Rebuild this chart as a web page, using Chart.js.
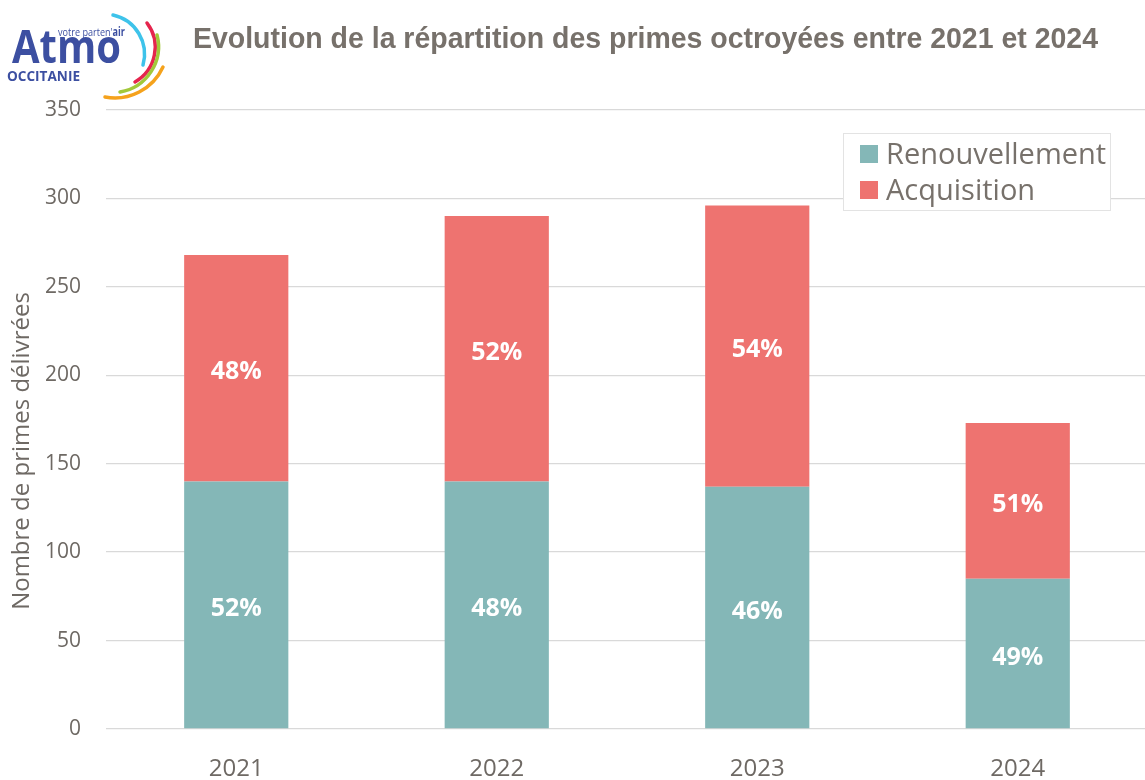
<!DOCTYPE html>
<html lang="fr">
<head>
<meta charset="utf-8">
<script src="https://cdn.jsdelivr.net/npm/chart.js@4.4.1/dist/chart.umd.min.js"></script>
<style>
  html, body { margin: 0; padding: 0; background: #fff; overflow: hidden; }
  #wrap { position: relative; width: 1145px; height: 780px; overflow: hidden; }
  #c { position: absolute; left: 0; top: 0; }
  #logo { position: absolute; left: 0; top: 0; width: 175px; height: 105px; }
</style>
</head>
<body>
<div id="wrap">
  <canvas id="c" width="1148" height="800"></canvas>
  <svg id="logo" width="175" height="105" viewBox="0 0 175 105" xmlns="http://www.w3.org/2000/svg">
    <text x="58" y="36" font-family="'Open Sans', sans-serif" font-size="11.5" fill="#3c4fa1" textLength="67" lengthAdjust="spacingAndGlyphs">votre parten'<tspan font-weight="bold">air</tspan></text>
    <text x="12" y="63" font-family="'Open Sans', sans-serif" font-weight="bold" font-size="46" fill="#3c4fa1" textLength="109" lengthAdjust="spacingAndGlyphs">Atmo</text>
    <text x="7" y="81" font-family="'Open Sans', sans-serif" font-weight="bold" font-size="15" fill="#3c4fa1" textLength="73" lengthAdjust="spacingAndGlyphs">OCCITANIE</text>
    <path d="M 113 15 A 40 40 0 0 1 143 65" fill="none" stroke="#3ec3ea" stroke-width="3.5" stroke-linecap="round"/>
    <path d="M 147 23 A 40 40 0 0 1 135 82" fill="none" stroke="#e5254d" stroke-width="3.5" stroke-linecap="round"/>
    <path d="M 157 35 A 46 46 0 0 1 120 92" fill="none" stroke="#a2c83a" stroke-width="3.5" stroke-linecap="round"/>
    <path d="M 163 67 A 53 53 0 0 1 105 97" fill="none" stroke="#f5a21c" stroke-width="3.5" stroke-linecap="round"/>
  </svg>
</div>
<script>
// ---- Data ----
const categories = ["2021", "2022", "2023", "2024"];
const renouvellement = [140, 140, 137, 85];
const acquisition = [128, 150, 159, 88];
const yTicks = [0, 50, 100, 150, 200, 250, 300, 350];
const seriesNames = ["Renouvellement", "Acquisition"];
const titleText = "Evolution de la répartition des primes octroyées entre 2021 et 2024";
const yAxisTitle = "Nombre de primes délivrées";

const TEAL = "#84b7b7";
const RED = "#ee7370";
const GREY = "#6e6964";
const FONT = "'Open Sans', 'Noto Sans', sans-serif";

const totals = categories.map((_, i) => renouvellement[i] + acquisition[i]);

const titlePlugin = {
  id: "customTitle",
  afterDraw(chart) {
    const ctx = chart.ctx;
    ctx.save();
    ctx.font = "bold 30px 'Liberation Sans Narrow', 'Liberation Sans', Arial, sans-serif";
    ctx.fillStyle = "#77716b";
    ctx.textBaseline = "alphabetic";
    ctx.textAlign = "left";
    const w = ctx.measureText(titleText).width;
    const target = 905;
    ctx.translate(193, 48);
    ctx.scale(target / w, 1);
    ctx.fillText(titleText, 0, 0);
    ctx.restore();

    // y axis title
    ctx.save();
    ctx.font = "24px " + FONT;
    ctx.fillStyle = GREY;
    ctx.textAlign = "center";
    ctx.textBaseline = "middle";
    ctx.translate(22, 451);
    ctx.rotate(-Math.PI / 2);
    ctx.fillText(yAxisTitle, 0, 0);
    ctx.restore();
  }
};

const labelPlugin = {
  id: "segLabels",
  afterDatasetsDraw(chart) {
    const ctx = chart.ctx;
    ctx.save();
    ctx.font = "bold 25px " + FONT;
    ctx.fillStyle = "#ffffff";
    ctx.textAlign = "center";
    ctx.textBaseline = "middle";
    chart.data.datasets.forEach((ds, di) => {
      const meta = chart.getDatasetMeta(di);
      meta.data.forEach((bar, i) => {
        const pct = Math.round(ds.data[i] / totals[i] * 100) + "%";
        const y = (bar.y + bar.base) / 2;
        ctx.fillText(pct, bar.x, y + 4);
      });
    });
    ctx.restore();
  }
};

const legendPlugin = {
  id: "boxLegend",
  afterDraw(chart) {
    const ctx = chart.ctx;
    const bx = 843, by = 133, bw = 268, bh = 78;
    ctx.save();
    ctx.fillStyle = "#ffffff";
    ctx.fillRect(bx, by, bw, bh);
    ctx.strokeStyle = "#e3e3e3";
    ctx.lineWidth = 1;
    ctx.strokeRect(bx + 0.5, by + 0.5, bw - 1, bh - 1);
    ctx.font = "29px " + FONT;
    ctx.textBaseline = "alphabetic";
    ctx.textAlign = "left";
    chart.data.datasets.forEach((ds, i) => {
      const rowY = 164 + i * 36;
      ctx.fillStyle = ds.backgroundColor;
      ctx.fillRect(860, rowY - 19, 18, 18);
      ctx.fillStyle = "#77716b";
      ctx.fillText(ds.label, 886, rowY);
    });
    ctx.restore();
  }
};

new Chart(document.getElementById("c"), {
  type: "bar",
  data: {
    labels: categories,
    datasets: [
      { label: seriesNames[0], data: renouvellement, backgroundColor: TEAL, borderWidth: 0 },
      { label: seriesNames[1], data: acquisition, backgroundColor: RED, borderWidth: 0 }
    ]
  },
  options: {
    responsive: false,
    animation: false,
    devicePixelRatio: 1,
    layout: { padding: { top: 110, right: 0, bottom: 0, left: 0 } },
    datasets: { bar: { categoryPercentage: 1.0, barPercentage: 0.4 } },
    plugins: {
      legend: { display: false },
      title: { display: false },
      tooltip: { enabled: false }
    },
    scales: {
      x: {
        stacked: true,
        grid: { display: false, drawTicks: false },
        border: { display: false },
        ticks: { color: GREY, font: { family: FONT, size: 24 }, padding: 26 },
        afterFit(scale) { scale.height = 800 - 729; }
      },
      y: {
        stacked: true,
        min: 0,
        max: 350,
        afterBuildTicks(scale) { scale.ticks = yTicks.map(v => ({ value: v })); },
        grid: { color: "#d9d9d9", lineWidth: 1.3, drawTicks: false },
        border: { display: false },
        ticks: { color: GREY, font: { family: FONT, size: 21 }, padding: 25 },
        afterFit(scale) { scale.width = 106; }
      }
    }
  },
  plugins: [labelPlugin, legendPlugin, titlePlugin]
});
</script>
</body>
</html>
